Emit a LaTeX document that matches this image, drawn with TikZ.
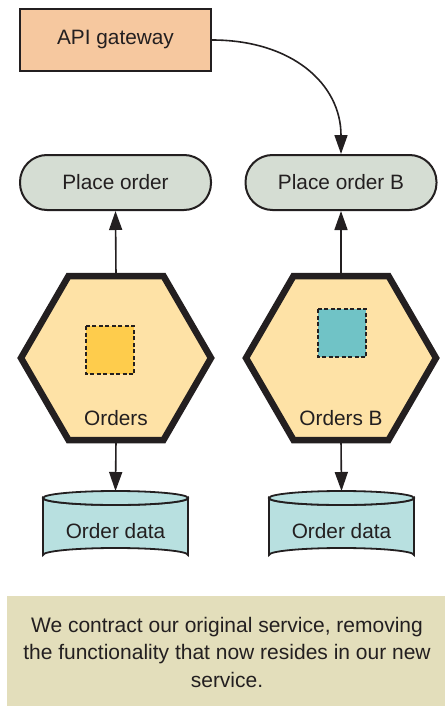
\documentclass[tikz,border=0pt]{standalone}
\usepackage{fontspec}
\setmainfont{Liberation Sans}
\usetikzlibrary{arrows.meta}
\definecolor{txt}{HTML}{231F20}
\definecolor{apifill}{HTML}{F6C89F}
\definecolor{pillfill}{HTML}{D5DDD3}
\definecolor{hexfill}{HTML}{FEE2A6}
\definecolor{goldfill}{HTML}{FECC4C}
\definecolor{tealfill}{HTML}{70C3C6}
\definecolor{dbfill}{HTML}{B8E0E0}
\definecolor{capfill}{HTML}{E3DEBB}
\begin{document}
\begin{tikzpicture}[x=1pt,y=-1pt,
  every node/.style={text=txt,font=\fontsize{20.8}{26}\selectfont},
  apibox/.style={draw=txt,line width=2pt,fill=apifill,minimum width=191pt,minimum height=62pt,inner sep=0pt},
  pill/.style={draw=txt,line width=2pt,fill=pillfill,minimum width=191pt,minimum height=55pt,rounded corners=27pt,inner sep=0pt},
  hexa/.style={draw=txt,line width=6.5pt,fill=hexfill,line join=miter},
  inner/.style={draw=txt,line width=1.5pt,dash pattern=on 4pt off 2.5pt},
  dbshape/.style={draw=txt,line width=1.8pt,fill=dbfill},
  conn/.style={draw=txt,line width=1.6pt,-{Triangle[length=19pt,width=13pt]}},
  plain/.style={inner sep=0pt}
]
\useasboundingbox (0,0) rectangle (445,706);

% caption
\fill[capfill] (7,596) rectangle (445,706);
\node[align=flush center,text width=422pt,inner sep=0pt,font=\fontsize{21}{27.5}\selectfont] (cap) at (227,652) {We contract our original service, removing the functionality that now resides in our new service.};

% API gateway and place order pills
\node[apibox] (api) at (115.5,40) {API gateway};
\node[pill] (po) at (115.5,182.5) {Place order};
\node[pill] (pob) at (341,182.5) {Place order B};

% hexagons
\foreach \cx/\nm in {116/hexa, 341/hexb}{
  \path[hexa] (\cx-95,358) -- (\cx-47.5,276) -- (\cx+47.5,276) -- (\cx+95,358) -- (\cx+47.5,440) -- (\cx-47.5,440) -- cycle;
  \coordinate (\nm top) at (\cx,276);
  \coordinate (\nm bot) at (\cx,440);
}
\fill[goldfill] (86,326) rectangle (134,374);
\draw[inner] (86,326) rectangle (134,374);
\fill[tealfill] (318,309) rectangle (366,357);
\draw[inner] (318,309) rectangle (366,357);
\node[plain] (ordA) at (116,418) {Orders};
\node[plain] (ordB) at (341,418) {Orders B};

% databases
\foreach \cx/\nm in {115.5/dba, 341.5/dbb}{
  \path[dbshape] (\cx-72.5,498) -- (\cx-72.5,555) arc[start angle=180,end angle=0,x radius=72.5,y radius=-7] -- (\cx+72.5,498) arc[start angle=0,end angle=180,x radius=72.5,y radius=7] -- cycle;
  \draw[dbshape] (\cx,498) ellipse[x radius=72.5,y radius=7];
  \coordinate (\nm top) at (\cx,491);
  \node[plain] (\nm) at (\cx,531) {Order data};
}

% connectors
\draw[conn] (hexatop) -- (po.south);
\draw[conn] (hexbtop) -- (pob.south);
\draw[conn] (hexabot) -- (dbatop);
\draw[conn] (hexbbot) -- (dbbtop);
\draw[conn] (api.east) .. controls +(80,0) and +(0,-70) .. (pob.north);
\end{tikzpicture}
\end{document}
